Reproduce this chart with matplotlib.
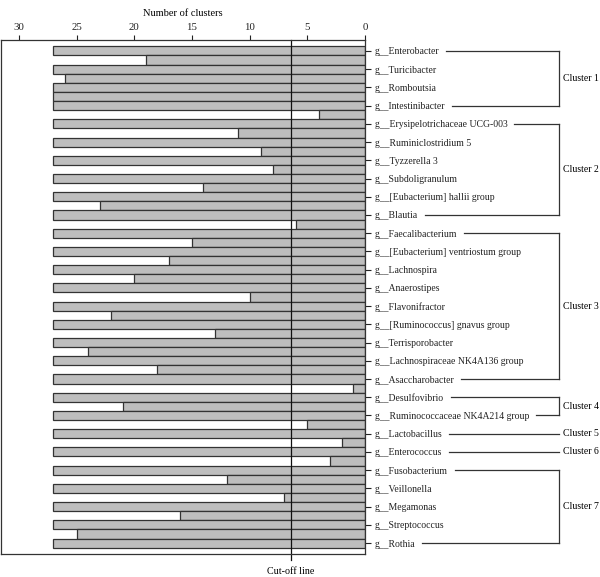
import matplotlib
matplotlib.use("Agg")
import matplotlib.pyplot as plt
from matplotlib.lines import Line2D

genera = ["Enterobacter", "Turicibacter", "Romboutsia", "Intestinibacter",
          "Erysipelotrichaceae UCG-003", "Ruminiclostridium 5", "Tyzzerella 3",
          "Subdoligranulum", "[Eubacterium] hallii group", "Blautia",
          "Faecalibacterium", "[Eubacterium] ventriostum group", "Lachnospira",
          "Anaerostipes", "Flavonifractor", "[Ruminococcus] gnavus group",
          "Terrisporobacter", "Lachnospiraceae NK4A136 group", "Asaccharobacter",
          "Desulfovibrio", "Ruminococcaceae NK4A214 group", "Lactobacillus",
          "Enterococcus", "Fusobacterium", "Veillonella", "Megamonas",
          "Streptococcus", "Rothia"]
leaf_value = 27
# merge level (number of clusters) between consecutive genera
gap_values = [19, 26, 27, 4, 11, 9, 8, 14, 23, 6, 15, 17, 20, 10, 22, 13, 24,
              18, 1, 21, 5, 2, 3, 12, 7, 16, 25]
cluster_names = ["Cluster 1", "Cluster 2", "Cluster 3", "Cluster 4",
                 "Cluster 5", "Cluster 6", "Cluster 7"]
cluster_first = [0, 4, 10, 19, 21, 22, 23]
cluster_last = [3, 9, 18, 20, 21, 22, 27]
cutoff = 6.4
x_ticks = [0, 5, 10, 15, 20, 25, 30]

plt.rcParams['font.family'] = ['Liberation Serif', 'DejaVu Serif']

W, H = 600, 577
fig = plt.figure(figsize=(W / 100, H / 100), dpi=100)
ax_l, ax_r, ax_t, ax_b = 1, 365, 40, 554
ax = fig.add_axes([ax_l / W, 1 - ax_b / H, (ax_r - ax_l) / W, (ax_b - ax_t) / H])

face = "#bebebe"
edge = "#333333"
n = len(genera)
rows = []
vals = []
for i in range(n):
    rows.append(2 * i)
    vals.append(leaf_value)
    if i < n - 1:
        rows.append(2 * i + 1)
        vals.append(gap_values[i])
ax.barh(rows, vals, height=1.0, left=0, color=face, edgecolor=edge, linewidth=0.9)

nrows = 2 * n - 1
ax.set_ylim(nrows - 0.5 + 0.7, -0.5 - 0.7)
ax.set_xlim(31.55, 0)
ax.xaxis.tick_top()
ax.xaxis.set_label_position("top")
ax.set_xticks(x_ticks)
ax.set_xticklabels([str(t) for t in x_ticks], fontsize=7.8)
ax.set_xlabel("Number of clusters", fontsize=7.5, labelpad=5)
ax.tick_params(axis='x', length=3.5, width=0.8, pad=2.5, colors="#222222")
ax.yaxis.tick_right()
ax.set_yticks([2 * i for i in range(n)])
ax.set_yticklabels(["g__" + g for g in genera], fontsize=7)
ax.tick_params(axis='y', length=4, width=0.8, pad=3, colors="#222222")
for s in ax.spines.values():
    s.set_linewidth(0.9)
    s.set_color("#333333")

# cut-off line, extending below the axes
ax.plot([cutoff, cutoff], [-0.5 - 0.7, nrows - 0.5 + 0.7 + 0.7], color="#111111",
        linewidth=0.9, clip_on=False)
fig.text(ax.transData.transform((cutoff, 0))[0] / W, 1 - 571 / H, "Cut-off line",
         ha="center", va="center", fontsize=7.2)

fig.canvas.draw()
renderer = fig.canvas.get_renderer()
labels = ax.get_yticklabels()
ends = [lab.get_window_extent(renderer).x1 for lab in labels]
ypix = [ax.transData.transform((0, 2 * i))[1] for i in range(n)]

vx = 559
lc = "#333333"
def fl(x0, y0, x1, y1):
    fig.add_artist(Line2D([x0 / W, x1 / W], [y0 / H, y1 / H], color=lc,
                          linewidth=0.9, transform=fig.transFigure))

for name, a, b in zip(cluster_names, cluster_first, cluster_last):
    ya, yb = ypix[a], ypix[b]
    fl(ends[a] + 7, ya, vx, ya)
    if a != b:
        fl(ends[b] + 7, yb, vx, yb)
        fl(vx, ya, vx, yb)
    fig.text(563 / W, (ya + yb) / 2 / H, name, ha="left", va="center", fontsize=7)

fig.savefig("out.png", dpi=100)
